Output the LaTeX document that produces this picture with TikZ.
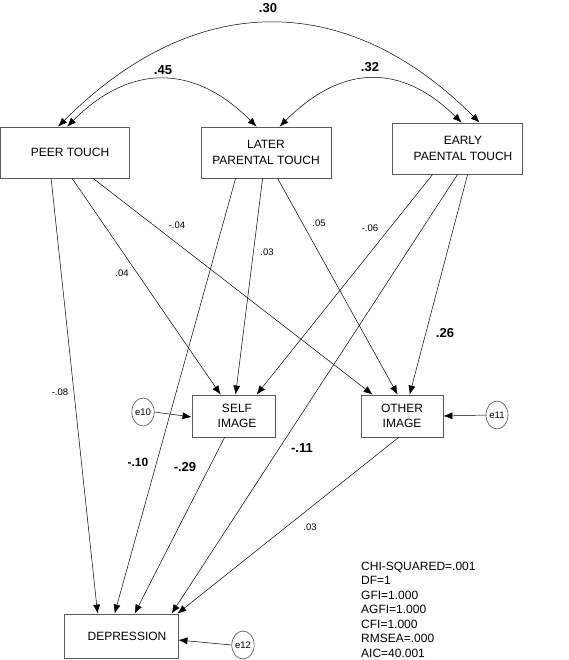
\documentclass[tikz,border=0pt]{standalone}
\usepackage{fontspec}
\setmainfont{Liberation Sans}
\usetikzlibrary{arrows.meta,shapes.geometric}
\begin{document}
\begin{tikzpicture}[x=1pt,y=-1pt,
  box/.style={draw=black!65,line width=0.8pt,rectangle,inner sep=0pt,align=center,font=\fontsize{12}{15.7}\selectfont},
  err/.style={draw=black!70,line width=0.6pt,ellipse,inner sep=0pt,minimum width=22pt,minimum height=28pt,font=\fontsize{9.5}{10}\selectfont},
  arr/.style={-{Latex[length=9pt,width=7pt]},line width=0.5pt},
  cov/.style={{Latex[length=9pt,width=7pt]}-{Latex[length=9pt,width=7pt]},line width=0.5pt},
  lab/.style={inner sep=0pt,font=\fontsize{9.5}{11}\selectfont},
  blab/.style={inner sep=0pt,font=\fontsize{13}{15}\selectfont\bfseries}]
\useasboundingbox (0,0) rectangle (568,660);

% boxes
\node[box,minimum width=129pt,minimum height=51pt] (peer) at (65,152.5) {\hspace*{10pt}PEER TOUCH};
\node[box,minimum width=130pt,minimum height=51pt] (later) at (266,152.5) {LATER\\PARENTAL TOUCH};
\node[box,minimum width=130pt,minimum height=51pt] (early) at (457,148.5) {\hspace*{12pt}EARLY\\\hspace*{12pt}PAENTAL TOUCH};
\node[box,minimum width=83pt,minimum height=42pt] (self) at (233.5,416) {\hspace*{7pt}SELF\\\hspace*{7pt}IMAGE};
\node[box,minimum width=82pt,minimum height=42pt] (other) at (402,416) {OTHER\\IMAGE};
\node[box,minimum width=114pt,minimum height=44pt] (dep) at (121,636) {\hspace*{12pt}DEPRESSION};

% error terms
\node[err] (e10) at (143,412) {e10};
\node[err] (e11) at (497,415) {e11};
\node[err] (e12) at (243,645) {e12};

% covariances
\draw[cov] ([xshift=58pt]peer.north west) .. controls +(137,-137) and +(-133,-133) .. ([xshift=88pt]early.north west);
\draw[cov] ([xshift=67pt]peer.north west) .. controls +(63,-63) and +(-63,-63) .. ([xshift=56pt]later.north west);
\draw[cov] ([xshift=79pt]later.north west) .. controls +(63,-63) and +(-60,-59) .. ([xshift=70pt]early.north west);

% paths from peer touch
\draw[arr] ([xshift=51pt]peer.south west) -- ([xshift=34pt]dep.north west);
\draw[arr] ([xshift=72pt]peer.south west) -- ([xshift=29pt]self.north west);
\draw[arr] ([xshift=93pt]peer.south west) -- ([xshift=12pt]other.north west);
% paths from later parental touch
\draw[arr] ([xshift=35pt]later.south west) -- ([xshift=51pt]dep.north west);
\draw[arr] ([xshift=62pt]later.south west) -- ([xshift=44pt]self.north west);
\draw[arr] ([xshift=77pt]later.south west) -- ([xshift=37pt]other.north west);
% paths from early paental touch
\draw[arr] ([xshift=41pt]early.south west) -- ([xshift=65pt]self.north west);
\draw[arr] ([xshift=66pt]early.south west) -- ([xshift=108pt]dep.north west);
\draw[arr] ([xshift=76pt]early.south west) -- ([xshift=49pt]other.north west);
% mediators
\draw[arr] ([xshift=33pt]self.south west) -- ([xshift=71pt]dep.north west);
\draw[arr] ([xshift=38pt]other.south west) -- ([xshift=-1pt]dep.north east);
% errors
\draw[arr] (e10.east) -- ([yshift=-1pt]self.west);
\draw[arr] (e11.west) -- (other.east);
\draw[arr] (e12.west) -- ([yshift=-4pt]dep.east);

% labels
\node[blab] (l30) at (268,8) {.30};
\node[blab] (l45) at (163,70) {.45};
\node[blab] (l32) at (370,67.5) {.32};
\node[lab] (lm04) at (177,225) {-.04};
\node[lab] (l05) at (319,223) {.05};
\node[lab] (lm06) at (370,228) {-.06};
\node[lab] (l03a) at (267,252) {.03};
\node[lab] (l04) at (122,273) {.04};
\node[blab] (l26) at (445,333) {.26};
\node[lab] (lm08) at (60,392) {-.08};
\node[blab] (lm11) at (302,448) {-.11};
\node[blab,font=\fontsize{12}{14}\selectfont\bfseries] (lm10) at (138,462) {-.10};
\node[blab] (lm29) at (185,467) {-.29};
\node[lab] (l03b) at (310,527) {.03};

% fit statistics
\node[anchor=north west,inner sep=0pt,align=left,font=\fontsize{12}{14.5}\selectfont] (fitstats) at (361,561.5)
  {CHI-SQUARED=.001\\DF=1\\GFI=1.000\\AGFI=1.000\\CFI=1.000\\RMSEA=.000\\AIC=40.001};
\end{tikzpicture}
\end{document}
